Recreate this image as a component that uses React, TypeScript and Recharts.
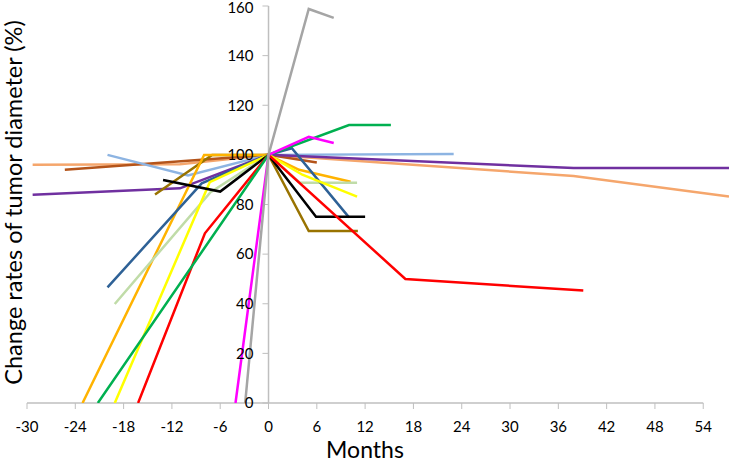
import { LineChart, Line, XAxis, YAxis, ReferenceLine, ReferenceDot } from "recharts";

// months from start of treatment vs. change rate of tumor diameter (%)
const monthTicks = [-30, -24, -18, -12, -6, 0, 6, 12, 18, 24, 30, 36, 42, 48, 54];
const pctTicks = [0, 20, 40, 60, 80, 100, 120, 140, 160];

const salmon = [[-29.3, 96], [-11, 96.2], [0, 100], [37.9, 91.5], [57.2, 83.2]];
const brown = [[-25.3, 94], [0, 100], [6, 96.9]];
const lightBlue = [[-20, 100], [-10, 91.7], [0, 100], [23, 100.4]];
const purple = [[-29.3, 83.9], [-11, 86.5], [0, 100], [37.9, 94.7], [57.2, 94.7]];
const olive = [[-14.1, 84], [-7, 100], [0, 100], [5, 69.3], [11.1, 69.3]];
const orange = [[-23.1, 0], [-8, 100], [0, 100], [3.8, 94], [10.2, 89.2]];
const lightGreen = [[-19.1, 39.9], [-7.2, 85], [0, 100], [3.9, 88.8], [11, 88.8]];
const steelBlue = [[-20, 46.6], [-8.3, 88.5], [0, 100], [2.9, 102.7], [10, 74.8]];
const yellow = [[-19.1, 0], [-7.3, 89], [0, 100], [4.2, 92], [11, 83.2]];
const black = [[-13.1, 89.9], [-6, 85.2], [0, 100], [5.9, 75.1], [12, 75.1]];
const red = [[-16.2, 0], [-7.9, 68.4], [0, 100], [17, 50], [39.1, 45.3]];
const green = [[-21.2, 0], [0, 100], [10, 112], [15.2, 112]];
const magenta = [[-4.1, 0], [0, 100], [5, 107.3], [8.1, 104.8]];
const gray = [[-2.9, 0], [0, 100], [5, 158.8], [8.1, 155.2]];

const series = [
  { name: "salmon", color: "#F5A66C", points: salmon },
  { name: "brown", color: "#B4541A", points: brown },
  { name: "lightBlue", color: "#8DB4E2", points: lightBlue },
  { name: "purple", color: "#7030A0", points: purple },
  { name: "olive", color: "#997300", points: olive },
  { name: "orange", color: "#FFB300", points: orange },
  { name: "lightGreen", color: "#C0DCA8", points: lightGreen },
  { name: "steelBlue", color: "#2E6196", points: steelBlue },
  { name: "yellow", color: "#FFFF00", points: yellow },
  { name: "black", color: "#000000", points: black },
  { name: "red", color: "#FF0000", points: red },
  { name: "green", color: "#00B050", points: green },
  { name: "magenta", color: "#FF00FF", points: magenta },
  { name: "gray", color: "#A5A5A5", points: gray },
];

const FONT = "Lato, 'Open Sans', sans-serif";
const AXIS = "#BFBFBF";

export default function App() {
  return (
    <div style={{ position: "absolute", left: 0, top: 0, background: "#fff" }}>
      <LineChart
        width={729}
        height={463}
        margin={{ top: 6, right: 0, bottom: 0, left: 0 }}
        style={{ fontFamily: FONT }}
      >
        <XAxis
          type="number"
          dataKey="x"
          domain={[-30, 57.2]}
          allowDataOverflow
          ticks={monthTicks}
          interval={0}
          height={60}
          axisLine={false}
          tickLine={{ stroke: AXIS }}
          tickSize={6}
          tickMargin={12}
          tick={{ fill: "#000", fontSize: 15 }}
          label={{ value: "Months", position: "insideBottom", offset: 5, dx: -13, fontSize: 23, fill: "#000" }}
        />
        <YAxis
          type="number"
          dataKey="y"
          domain={[0, 160]}
          allowDataOverflow
          width={27}
          tick={false}
          axisLine={false}
          tickLine={false}
          label={{
            value: "Change rates of tumor diameter (%)",
            angle: -90,
            position: "center",
            dy: -2,
            fontSize: 23.5,
            fill: "#000",
          }}
        />
        {/* y axis sits at month 0 */}
        <ReferenceLine x={0} stroke={AXIS} strokeWidth={1.5} />
        <ReferenceLine segment={[{ x: -30, y: 0 }, { x: 54, y: 0 }]} stroke={AXIS} strokeWidth={1.5} />
        {pctTicks.map((v) => (
          <ReferenceLine key={"t" + v} segment={[{ x: -0.75, y: v }, { x: 0, y: v }]} stroke={AXIS} />
        ))}
        {pctTicks.map((v) => (
          <ReferenceDot
            key={"l" + v}
            x={0}
            y={v}
            r={0}
            fill="none"
            stroke="none"
            label={{ value: String(v), position: "left", offset: 15, fontSize: 15, fill: "#000", dy: v === 160 ? 2 : 0 }}
          />
        ))}
        {series.map((s) => (
          <Line
            key={s.name}
            data={s.points.map(([x, y]) => ({ x, y }))}
            dataKey="y"
            type="linear"
            stroke={s.color}
            strokeWidth={2.5}
            dot={false}
            activeDot={false}
            isAnimationActive={false}
          />
        ))}
      </LineChart>
    </div>
  );
}
